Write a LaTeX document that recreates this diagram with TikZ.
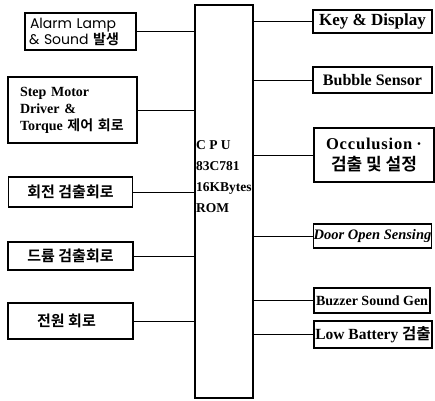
\documentclass[tikz,border=0pt]{standalone}
\usepackage{fontspec}
\setmainfont{Liberation Serif}
\newfontfamily\kr{Noto Sans CJK KR}[BoldFont={* Bold}]
\newfontfamily\av{Poppins}
\begin{document}
\begin{tikzpicture}[x=1pt,y=-1pt,
  box/.style={draw,line width=1.1pt,inner sep=0pt,align=center,font=\bfseries\fontsize{13}{16}\selectfont},
  wire/.style={line width=1pt}]
\useasboundingbox (0,0) rectangle (435,400);
% CPU
\node[draw,line width=1.1pt,minimum width=58pt,minimum height=393pt,inner sep=0pt] (cpu) at (224,201.5) {};
\node[anchor=north west,align=left,inner sep=0pt,font=\bfseries\fontsize{13.5}{21}\selectfont] (cputext) at (196,140) {C P U\\83C781\\16KBytes\\ROM};
% left
\node[box,minimum width=111pt,minimum height=37pt,text width=103pt,align=left,font=\av\fontsize{14}{16}\selectfont] (alarm) at (80.5,31.5) {\hspace*{1pt}Alarm Lamp\\\& Sound {\kr\bfseries 발생}};
\node[box,minimum width=129pt,minimum height=66pt,text width=117pt,align=left,font=\bfseries\fontsize{14}{17}\selectfont] (step) at (72.5,110) {\hspace*{6pt}Step Motor\\\hspace*{6pt}Driver \&\\\hspace*{6pt}Torque {\kr\bfseries 제어 회로}};
\node[box,minimum width=124pt,minimum height=30pt,font=\kr\bfseries\fontsize{15}{18}\selectfont] (rot) at (70.5,192) {회전 검출회로};
\node[box,minimum width=125pt,minimum height=28pt,font=\kr\bfseries\fontsize{15}{18}\selectfont] (drum) at (70.5,256) {드륨 검출회로};
\node[box,minimum width=125pt,minimum height=36pt,font=\kr\bfseries\fontsize{15}{18}\selectfont] (power) at (70.5,321) {전원 회로\hspace*{8pt}};
% right
\node[box,minimum width=119pt,minimum height=23pt,font=\bfseries\fontsize{17}{18}\selectfont] (key) at (372.5,21.5) {Key \& Display};
\node[box,minimum width=119pt,minimum height=26pt,font=\bfseries\fontsize{16}{18}\selectfont] (bubble) at (372.5,80) {Bubble Sensor};
\node[box,minimum width=120pt,minimum height=54pt,font=\bfseries\fontsize{16.5}{21}\selectfont] (occ) at (374,155) {{\addfontfeature{LetterSpace=5}Occulusion} ·\\{\kr\bfseries\fontsize{17}{21}\selectfont 검출 및 설정}};
\node[box,minimum width=117pt,minimum height=24pt,font=\bfseries\itshape\fontsize{14.5}{16}\selectfont] (door) at (372.5,236) {Door Open Sensing};
\node[box,minimum width=116pt,minimum height=25pt,font=\bfseries\fontsize{14}{16}\selectfont] (buzz) at (372,300.5) {Buzzer Sound Gen};
\node[box,minimum width=118pt,minimum height=27pt,font=\bfseries\fontsize{15.5}{16}\selectfont] (lowbat) at (373,334.5) {Low Battery {\kr\bfseries 검출}};
% wires
\foreach \n in {alarm,step,rot,drum,power}
  \draw[wire] (\n.east) -- (\n.east -| cpu.west);
\foreach \n in {key,bubble,occ,door,buzz,lowbat}
  \draw[wire] (\n.west) -- (\n.west -| cpu.east);
\end{tikzpicture}
\end{document}
